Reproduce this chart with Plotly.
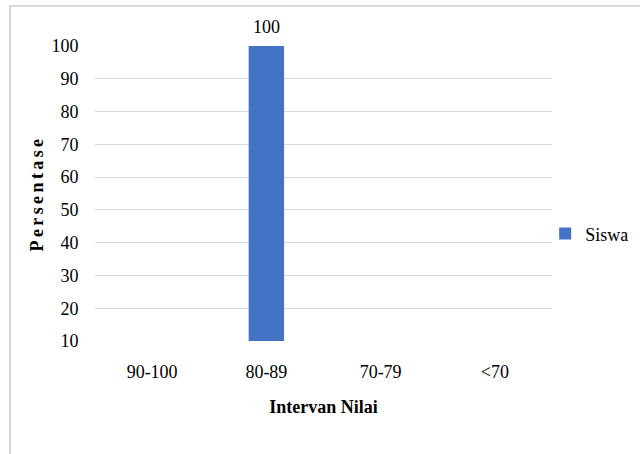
import plotly.graph_objects as go

categories = ["90-100", "80-89", "70-79", "<70"]
siswa = [0, 100, 0, 0]
y_ticks = [10, 20, 30, 40, 50, 60, 70, 80, 90, 100]

FONT = "Liberation Serif, Times New Roman, serif"

fig = go.Figure()
fig.add_trace(go.Bar(
    x=categories, y=siswa, name="Siswa",
    marker=dict(color="#4472C4", line=dict(width=0)),
    width=0.31, showlegend=True,
))

# data labels for visible bars
for c, v in zip(categories, siswa):
    if v >= y_ticks[0]:
        fig.add_annotation(x=c, y=v, text=str(v), showarrow=False,
                           yanchor="bottom", yshift=7,
                           font=dict(family=FONT, size=18, color="#000000"))

fig.update_layout(
    width=640, height=454,
    margin=dict(l=95, r=88, t=46, b=113, autoexpand=False),
    paper_bgcolor="white", plot_bgcolor="white",
    font=dict(family=FONT, size=18, color="#000000"),
    showlegend=True,
    legend=dict(x=0.985, y=0.363, xanchor="left", yanchor="middle",
                font=dict(family=FONT, size=18, color="#000000"),
                itemwidth=30, bgcolor="rgba(0,0,0,0)"),
    xaxis=dict(
        title=dict(text="<b>Intervan Nilai</b>", font=dict(family=FONT, size=18), standoff=19),
        showgrid=False, showline=False, zeroline=False,
        ticks="outside", ticklen=14, tickcolor="rgba(0,0,0,0)",
        tickfont=dict(family=FONT, size=18),
    ),
    yaxis=dict(
        title=dict(text='<b><span style="letter-spacing:3.4px">Persentase</span></b>',
                   font=dict(family=FONT, size=18), standoff=3),
        range=[10, 100], tickvals=y_ticks,
        showgrid=True, gridcolor="#d9d9d9", gridwidth=1.3,
        showline=False, zeroline=False,
        ticks="outside", ticklen=12, tickcolor="rgba(0,0,0,0)",
        tickfont=dict(family=FONT, size=18),
    ),
    shapes=[dict(type="rect", xref="paper", yref="paper",
                 x0=-0.186, x1=2, y0=-2, y1=1.1356,
                 line=dict(color="#d9d9d9", width=2), fillcolor="rgba(0,0,0,0)",
                 layer="below")],
)

fig.write_html("out.html")
